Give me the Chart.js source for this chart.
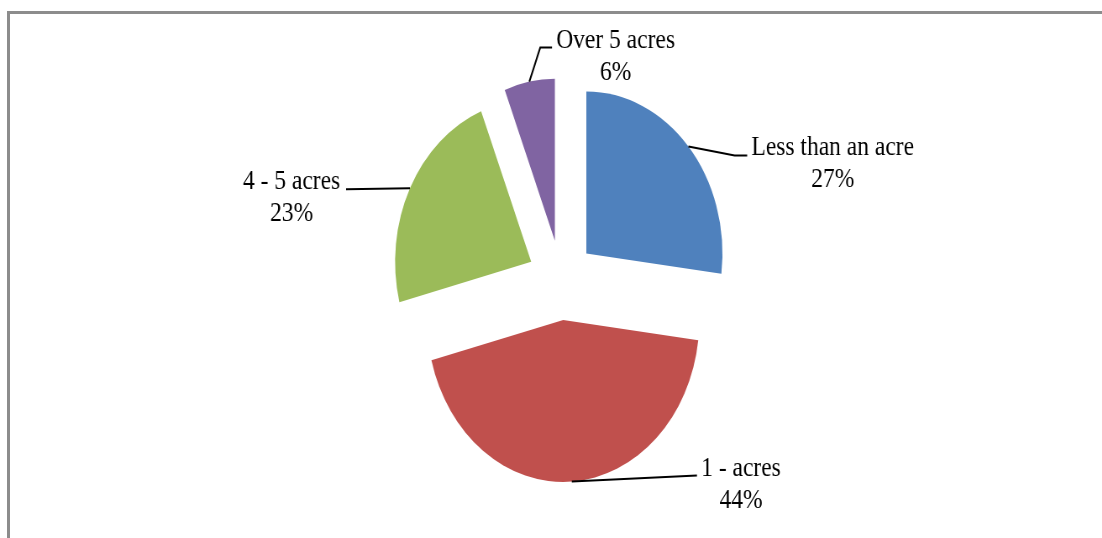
<!DOCTYPE html>
<html>
<head>
<meta charset="utf-8">
<script src="https://cdn.jsdelivr.net/npm/chart.js@4.4.1/dist/chart.umd.min.js"></script>
<style>
  html, body { margin: 0; padding: 0; background: #fff; overflow: hidden; }
  #frame {
    position: absolute; left: 7px; top: 11px; width: 1095px; height: 527px;
    border-top: 3px solid #8c8c8c; border-left: 3px solid #8c8c8c;
  }
  /* the original picture is squeezed horizontally, so the pie is an ellipse */
  #wrap {
    position: absolute; left: 0; top: 0; width: 1312px; height: 538px;
    transform: scaleX(0.84); transform-origin: 0 0;
  }
</style>
</head>
<body>
<div id="frame"></div>
<div id="wrap"><canvas id="pie" width="1312" height="538"></canvas></div>
<script>
const categories = ["Less than an acre", "1 - acres", "4 - 5 acres", "Over 5 acres"];
const shares = [27, 44, 23, 6];
const sliceColors = ["#4f81bd", "#c0504d", "#9bbb59", "#8064a2"];

// leader layout, relative to the outer mid point of each slice:
// [elbow dx, elbow dy, end dx, end dy, text side]
const leaders = [
  [55, 9, 70, 9, "right"],
  [149, -6, 149, -6, "right"],
  [-76, 1, -76, 1, "left"],
  [13, -34, 27, -34, "right"],
];

const RADIUS = 162;
const EXPLODE = 160; // Chart.js moves each arc by offset / 4

// Chart.js grows the radius and trims the angle of some exploded slices,
// undo that so every slice keeps the same radius and its full share
const keepRadius = {
  id: "keepRadius",
  afterDatasetsUpdate(chart) {
    const shift = EXPLODE / 4;
    chart.getDatasetMeta(0).data.forEach((arc) => {
      const fix = 1 - Math.sin(Math.min(Math.PI, arc.circumference));
      const grow = shift * fix;
      arc.outerRadius = RADIUS - grow;
      const trim = grow / Math.PI / RADIUS / 2;
      arc.startAngle -= trim;
      arc.endAngle += trim;
    });
  },
};

const leaderLabels = {
  id: "leaderLabels",
  afterDraw(chart) {
    const ctx = chart.ctx;
    const shift = EXPLODE / 4;
    ctx.save();
    ctx.font = "28px 'Liberation Serif', 'Times New Roman', serif";
    ctx.fillStyle = "#000";
    ctx.strokeStyle = "#000";
    ctx.lineWidth = 2;
    chart.getDatasetMeta(0).data.forEach((arc, i) => {
      const mid = (arc.startAngle + arc.endAngle) / 2;
      const ax = arc.x + Math.cos(mid) * (shift + RADIUS);
      const ay = arc.y + Math.sin(mid) * (shift + RADIUS);
      const [ex, ey, tx, ty, side] = leaders[i];
      ctx.beginPath();
      ctx.moveTo(ax, ay);
      ctx.lineTo(ax + ex, ay + ey);
      ctx.lineTo(ax + tx, ay + ty);
      ctx.stroke();

      const lines = [categories[i], shares[i] + "%"];
      const w = Math.max(...lines.map((t) => ctx.measureText(t).width));
      const cx = side === "right" ? ax + tx + 5 + w / 2 : ax + tx - 7 - w / 2;
      ctx.textAlign = "center";
      ctx.textBaseline = "alphabetic";
      lines.forEach((t, k) => ctx.fillText(t, cx, ay + ty + k * 32));
    });
    ctx.restore();
  },
};

new Chart(document.getElementById("pie").getContext("2d"), {
  type: "pie",
  data: {
    labels: categories,
    datasets: [
      {
        data: shares,
        backgroundColor: sliceColors,
        borderWidth: 0,
        offset: EXPLODE,
      },
    ],
  },
  options: {
    responsive: false,
    animation: false,
    radius: RADIUS,
    layout: { padding: { left: 24, right: 0, top: 22, bottom: 0 } },
    plugins: {
      legend: { display: false },
      tooltip: { enabled: false },
    },
  },
  plugins: [keepRadius, leaderLabels],
});
</script>
</body>
</html>
